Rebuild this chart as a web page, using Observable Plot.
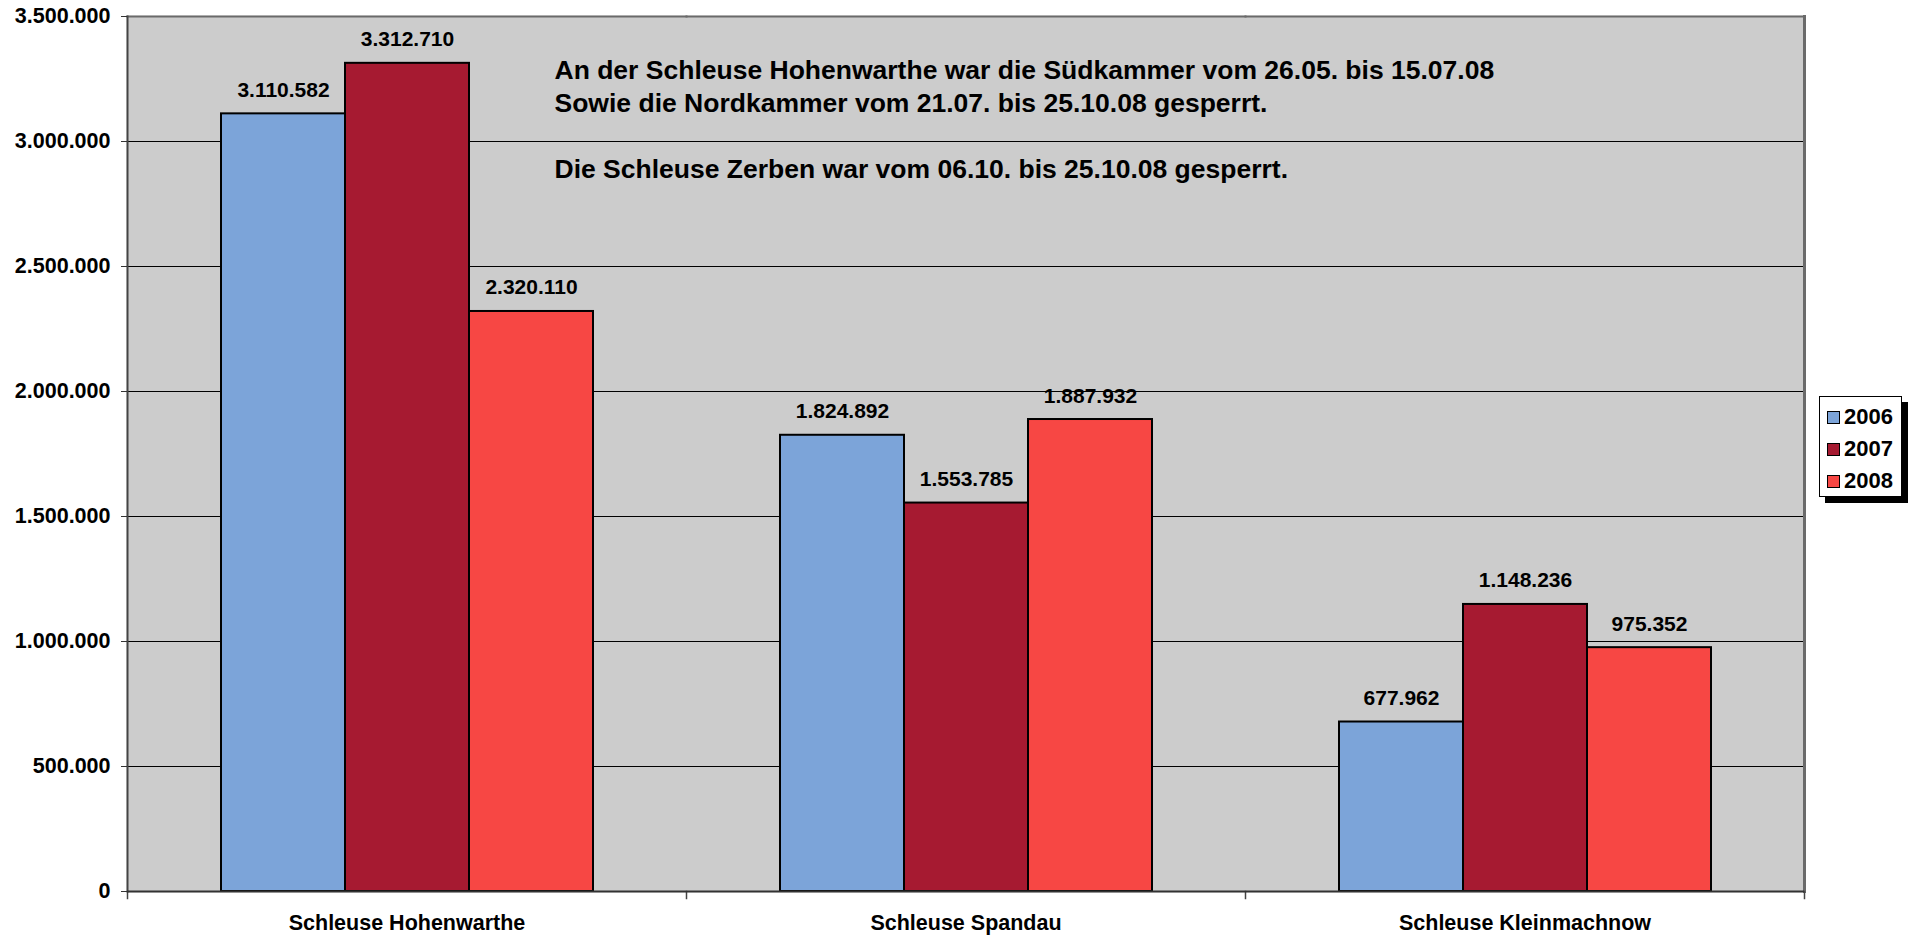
<!DOCTYPE html>
<html>
<head>
<meta charset="utf-8">
<script src="https://cdn.jsdelivr.net/npm/d3@7"></script>
<script src="https://cdn.jsdelivr.net/npm/@observablehq/plot@0.6"></script>
<style>
  html, body { margin: 0; padding: 0; background: #ffffff; }
  #wrap { position: relative; width: 1916px; height: 938px; font-family: "Liberation Sans", Arial, sans-serif; }
  #legend { position: absolute; left: 1819px; top: 396px; width: 83px; height: 101px; background: #fff;
            border: 1px solid #000; box-shadow: 6px 6px 0 #000; box-sizing: border-box; padding-top: 4px; }
  .item { display: flex; align-items: center; height: 32px; padding-left: 7px; font-weight: bold; font-size: 22px; color: #000; }
  .sw { width: 11px; height: 11px; border: 1.5px solid #000; margin-right: 4px; }
</style>
</head>
<body>
<div id="wrap"></div>
<script>
const categories = ["Schleuse Hohenwarthe", "Schleuse Spandau", "Schleuse Kleinmachnow"];
const years = ["2006", "2007", "2008"];
const values2006 = [3110582, 1824892, 677962];
const values2007 = [3312710, 1553785, 1148236];
const values2008 = [2320110, 1887932, 975352];
const yTicks = [0, 500000, 1000000, 1500000, 2000000, 2500000, 3000000, 3500000];
const colors = ["#7ca4d9", "#a61a31", "#f74744"];
const annotationLines = [
  "An der Schleuse Hohenwarthe war die Südkammer vom 26.05. bis 15.07.08",
  "Sowie die Nordkammer vom 21.07. bis 25.10.08 gesperrt.",
  "",
  "Die Schleuse Zerben war vom 06.10. bis 25.10.08 gesperrt."
];

const series = [values2006, values2007, values2008];
const data = [];
categories.forEach((c, i) => years.forEach((y, j) => data.push({cat: c, year: y, value: series[j][i]})));

const fmt = d3.formatLocale({decimal: ",", thousands: ".", grouping: [3], currency: ["", " €"]}).format(",d");

const chart = Plot.plot({
  width: 1916,
  height: 938,
  marginLeft: 126,
  marginRight: 111,
  marginTop: 16,
  marginBottom: 47,
  style: {fontFamily: "'Liberation Sans', Arial, sans-serif", background: "#ffffff", color: "#000"},
  fx: {domain: categories, padding: 0, label: null},
  x: {domain: years, paddingInner: 0, paddingOuter: 0.75, axis: null},
  y: {domain: [0, 3500000], label: null},
  color: {domain: years, range: colors},
  marks: [
    Plot.frame({fill: "#cccccc", stroke: "#cccccc", strokeWidth: 1.5}),
    Plot.gridY({ticks: yTicks, stroke: "#000", strokeOpacity: 1, strokeWidth: 1}),
    Plot.barY(data, {fx: "cat", x: "year", y: "value", fill: "year", stroke: "#000", strokeWidth: 2}),
    Plot.frame({anchor: "top", stroke: "#6a6a6a", strokeWidth: 2}),
    Plot.frame({anchor: "right", stroke: "#6a6a6a", strokeWidth: 3, facetAnchor: "right"}),
    Plot.frame({anchor: "left", stroke: "#444", strokeWidth: 2, facetAnchor: "left"}),
    Plot.frame({anchor: "left", stroke: "#444", strokeWidth: 1.5, insetTop: 875, insetBottom: -7}),
    Plot.frame({anchor: "right", stroke: "#444", strokeWidth: 1.5, insetTop: 875, insetBottom: -7, facetAnchor: "right"}),
    Plot.ruleY([0], {stroke: "#333", strokeWidth: 2}),
    Plot.text(data, {fx: "cat", x: "year", y: "value", text: d => fmt(d.value), lineAnchor: "bottom", dy: -17,
      fontSize: 21, fontWeight: "bold", fill: "#000"}),
    Plot.text([annotationLines.join("\n")], {fx: () => categories[0], text: d => d, frameAnchor: "top-left",
      textAnchor: "start", lineAnchor: "top", dx: 427, dy: 39, fontSize: 26.5, lineHeight: 1.245, fontWeight: "bold", fill: "#000"}),
    Plot.axisY({ticks: yTicks, tickFormat: fmt, tickSize: 6, tickPadding: 11, fontSize: 21.5, fontWeight: "bold", label: null, stroke: "#333"}),
    Plot.axisFx({anchor: "bottom", tickSize: 0, tickPadding: 23, fontSize: 21.5, fontWeight: "bold", label: null})
  ]
});

const wrap = document.getElementById("wrap");
wrap.appendChild(chart);

const legend = document.createElement("div");
legend.id = "legend";
years.forEach((y, i) => {
  const item = document.createElement("div");
  item.className = "item";
  const sw = document.createElement("span");
  sw.className = "sw";
  sw.style.background = colors[i];
  item.appendChild(sw);
  item.appendChild(document.createTextNode(y));
  legend.appendChild(item);
});
wrap.appendChild(legend);
</script>
</body>
</html>
